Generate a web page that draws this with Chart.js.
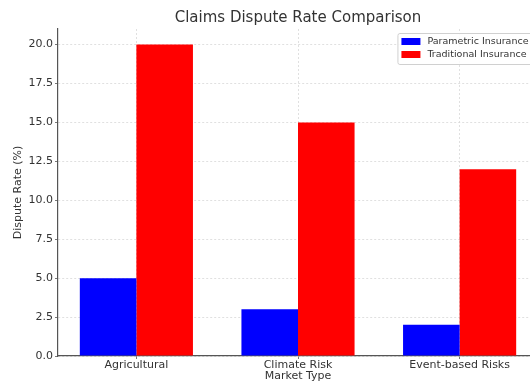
<!DOCTYPE html>
<html>
<head>
<meta charset="utf-8">
<script src="https://cdn.jsdelivr.net/npm/chart.js@4.4.0/dist/chart.umd.min.js"></script>
<style>
  html, body { margin: 0; padding: 0; overflow: hidden; background: #fff; }
  #wrap { width: 540px; height: 383px; }
</style>
</head>
<body>
<div id="wrap"><canvas id="c" width="540" height="383"></canvas></div>
<script>
// Market types on the x axis
const categories = ['Agricultural', 'Climate Risk', 'Event-based Risks'];
// Dispute rates in percent
const parametricRates = [5, 3, 2];
const traditionalRates = [20, 15, 12];
// Y axis tick values
const yTicks = [0, 2.5, 5, 7.5, 10, 12.5, 15, 17.5, 20];

const FONT = "'DejaVu Sans', sans-serif";
const TEXT = '#333333';

// Framed legend drawn inside the top-right corner of the plot
const insideLegend = {
  id: 'insideLegend',
  afterDraw(chart) {
    const ctx = chart.ctx;
    const ca = chart.chartArea;
    const items = chart.data.datasets.map(d => ({ label: d.label, color: d.backgroundColor }));
    ctx.save();
    ctx.font = '9.5px ' + FONT;
    const tw = Math.max(...items.map(i => ctx.measureText(i.label).width));
    const w = 4 + 20 + 6 + tw + 5;
    const h = 31;
    const x = ca.right - 4.5 - w;
    const y = ca.top + 4;
    ctx.fillStyle = 'rgba(255,255,255,0.85)';
    ctx.strokeStyle = '#d0d0d0';
    ctx.lineWidth = 1;
    ctx.beginPath();
    ctx.roundRect(x + 0.5, y + 0.5, w, h, 2);
    ctx.fill();
    ctx.stroke();
    items.forEach((it, i) => {
      const cy = y + 8.5 + i * 13;
      ctx.fillStyle = it.color;
      ctx.fillRect(x + 4, cy - 3.5, 19, 7);
      ctx.fillStyle = TEXT;
      ctx.textBaseline = 'middle';
      ctx.textAlign = 'left';
      ctx.fillText(it.label, x + 30, cy);
    });
    ctx.restore();
  }
};

const gridStyle = {
  color: '#d8d8d8',
  lineWidth: 0.8,
  tickLength: 3,
  tickColor: '#555555',
  tickBorderDash: []
};

new Chart(document.getElementById('c'), {
  type: 'bar',
  data: {
    datasets: [
      {
        label: 'Parametric Insurance',
        data: categories.map((c, i) => ({ x: i, y: parametricRates[i] })),
        backgroundColor: '#0000ff',
        borderWidth: 0,
        categoryPercentage: 0.7,
        barPercentage: 1.0
      },
      {
        label: 'Traditional Insurance',
        data: categories.map((c, i) => ({ x: i, y: traditionalRates[i] })),
        backgroundColor: '#ff0000',
        borderWidth: 0,
        categoryPercentage: 0.7,
        barPercentage: 1.0
      }
    ]
  },
  options: {
    responsive: false,
    animation: false,
    layout: { padding: { left: 0, right: 2, top: 0, bottom: 0 } },
    plugins: {
      legend: { display: false },
      tooltip: { enabled: false },
      title: {
        display: true,
        text: 'Claims Dispute Rate Comparison',
        fullSize: false,
        color: TEXT,
        font: { family: FONT, size: 15, weight: 'normal' },
        padding: { top: 9, bottom: 2 }
      }
    },
    scales: {
      x: {
        type: 'linear',
        offset: false,
        min: -0.485,
        max: 2.485,
        afterBuildTicks: s => { s.ticks = categories.map((c, i) => ({ value: i })); },
        afterFit: s => { s.height = 27; },
        ticks: {
          callback: v => categories[v],
          color: TEXT,
          font: { family: FONT, size: 11 },
          padding: 0,
          maxRotation: 0,
          autoSkip: false
        },
        grid: Object.assign({ offset: false }, gridStyle),
        border: { display: true, color: '#555555', width: 1.2, dash: [2, 2] },
        title: {
          display: true,
          text: 'Market Type',
          color: TEXT,
          font: { family: FONT, size: 11 },
          padding: { top: 0, bottom: 0 }
        }
      },
      y: {
        min: 0,
        max: 21,
        afterBuildTicks: s => { s.ticks = yTicks.map(v => ({ value: v })); },
        afterFit: s => { s.width = 58; },
        ticks: {
          callback: v => v.toFixed(1),
          color: TEXT,
          font: { family: FONT, size: 11 },
          padding: 2,
          includeBounds: false
        },
        grid: Object.assign({}, gridStyle),
        border: { display: true, color: '#555555', width: 1.2, dash: [2, 2] },
        title: {
          display: true,
          text: 'Dispute Rate (%)',
          color: TEXT,
          font: { family: FONT, size: 11 },
          padding: { top: 12, bottom: 0 }
        }
      }
    }
  },
  plugins: [insideLegend]
});
</script>
</body>
</html>
